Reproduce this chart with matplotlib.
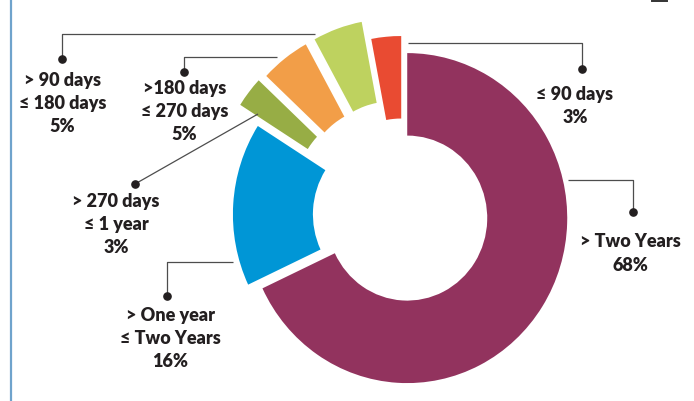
import matplotlib.pyplot as plt

# ageing buckets, drawn clockwise from 12 o'clock
categories = ['> Two Years', '> One year\n≤ Two Years', '> 270 days\n≤ 1 year',
              '>180 days\n≤ 270 days', '> 90 days\n≤ 180 days', '≤ 90 days']
shares = [68, 16, 3, 5, 5, 3]
colors = ['#92335E', '#0096D6', '#97AD45', '#F29E48', '#BED25F', '#E94B32']
explode = [0.035, 0.06, 0.215, 0.2, 0.2, 0.085]

W, H = 694, 401
CX, CY = 402.5, 215.0   # pie centre in pixels
RX, RY = 160.0, 165.0   # outer radius in pixels (x, y)


def pt(x, y):
    # pixel position -> data coords (pie radius = 1)
    return (x - CX) / RX, (CY - y) / RY


# leader path (px), label centre x, baselines of each text line
layout = [
    ([(568, 180), (633, 180), (633, 212)], 630, [247, 271]),
    ([(233, 262), (167, 262), (167, 296)], 170, [321, 344, 367]),
    ([(258, 114), (135, 184)], 116, [207, 230, 253]),
    ([(277, 57), (184, 57), (184, 72)], 184.5, [94, 117, 140]),
    ([(315, 34), (62, 34), (62, 59)], 62.5, [86, 109, 132]),
    ([(408, 43), (582, 43), (582, 69)], 575, [100, 123]),
]

fig = plt.figure(figsize=(W / 100, H / 100), dpi=100)
ax = fig.add_axes([0, 0, 1, 1])

ax.pie(shares, colors=colors, explode=explode, startangle=90, counterclock=False,
       radius=1, wedgeprops=dict(width=0.5, linewidth=0))

ax.set_aspect('auto')
ax.set_xlim(-CX / RX, (W - CX) / RX)
ax.set_ylim((CY - H) / RY, CY / RY)
ax.axis('off')

font = dict(family=['Lato', 'DejaVu Sans'], weight='heavy', size=13, color='#231F20')

for cat, val, (path, tx, ys) in zip(categories, shares, layout):
    xs, yv = zip(*[pt(*p) for p in path])
    ax.plot(xs, yv, color='#4D4D4D', lw=0.9, solid_capstyle='butt')
    ax.plot(xs[-1], yv[-1], 'o', color='#231F20', ms=5.2)
    lines = cat.split('\n') + [f'{val}%']
    for line, by in zip(lines, ys):
        ax.text(*pt(tx, by), line, ha='center', va='baseline', **font)

# frame bits along the edges
ax.plot(*zip(pt(11, 0), pt(11, H)), color='#6FA3CC', lw=1.6)
ax.plot(*zip(pt(652, 0.6), pt(667, 0.6)), color='#333333', lw=1.4)

fig.savefig('out.png', dpi=100)
